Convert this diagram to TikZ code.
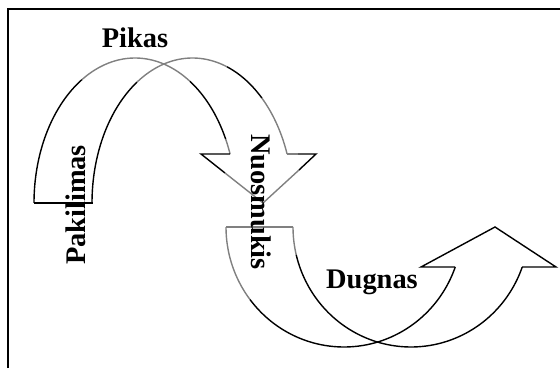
\documentclass[tikz,border=0pt]{standalone}
\usepackage{fontspec}
\setmainfont{Liberation Serif}
\begin{document}
\begin{tikzpicture}[x=0.5pt,y=-0.5pt,
  blk/.style={draw=black,line width=0.7pt},
  gry/.style={draw=black!50,line width=0.7pt},
  lbl/.style={font=\fontsize{14.2}{16}\selectfont\bfseries, inner sep=0pt}]
\useasboundingbox (0,0) rectangle (560,368);
% frame (cut off at right and bottom)
\draw[line width=1.1pt] (8,368) -- (8,9) -- (560,9);

% ---------- upper curved arrow ----------
% ellipse A: centre (135,203), rx 101, ry 145
\draw[blk] plot[domain=180:121.7,samples=40,variable=\t] ({135+101*cos(\t)},{203-145*sin(\t)});
\draw[gry] plot[domain=121.7:57,samples=40,variable=\t] ({135+101*cos(\t)},{203-145*sin(\t)});
\draw[blk] plot[domain=57:26,samples=30,variable=\t] ({135+101*cos(\t)},{203-145*sin(\t)});
\draw[gry] plot[domain=26:19.76,samples=10,variable=\t] ({135+101*cos(\t)},{203-145*sin(\t)});
% ellipse B: centre (192.5,203), rx 100.5, ry 145
\draw[blk] plot[domain=180:123.5,samples=40,variable=\t] ({192.5+100.5*cos(\t)},{203-145*sin(\t)});
\draw[gry] plot[domain=123.5:69.9,samples=40,variable=\t] ({192.5+100.5*cos(\t)},{203-145*sin(\t)});
\draw[blk] plot[domain=69.9:46.3,samples=30,variable=\t] ({192.5+100.5*cos(\t)},{203-145*sin(\t)});
\draw[gry] plot[domain=46.3:19.76,samples=30,variable=\t] ({192.5+100.5*cos(\t)},{203-145*sin(\t)});
% leg end
\draw[blk] (34,203) -- (92.5,203);
% arrow head
\coordinate (ha1) at (230,154);
\coordinate (ha2) at (201,154);
\coordinate (ha3) at (225,173);
\coordinate (tip1) at (263,203);
\coordinate (ha4) at (299,170);
\coordinate (ha5) at (316,154);
\coordinate (ha6) at (298,154);
\coordinate (ha7) at (287,154);
\draw[blk] (ha1) -- (ha2) -- (ha3);
\draw[gry] (ha3) -- (tip1) -- (ha4);
\draw[blk] (ha4) -- (ha5) -- (ha6);
\draw[gry] (ha6) -- (ha7);

% ---------- lower curved arrow ----------
% ellipse A: centre (344,227), rx 118, ry 120
\draw[gry] plot[domain=180:142.8,samples=30,variable=\t] ({344+118*cos(\t)},{227+120*sin(\t)});
\draw[blk] plot[domain=142.8:19.47,samples=80,variable=\t] ({344+118*cos(\t)},{227+120*sin(\t)});
% ellipse B: centre (411,227), rx 118, ry 120
\draw[gry] plot[domain=180:166.5,samples=15,variable=\t] ({411+118*cos(\t)},{227+120*sin(\t)});
\draw[blk] plot[domain=166.5:19.47,samples=80,variable=\t] ({411+118*cos(\t)},{227+120*sin(\t)});
% leg end
\draw[gry] (226,227) -- (293,227);
% arrow head
\coordinate (hb1) at (455,267);
\coordinate (hb2) at (421,267);
\coordinate (tip2) at (495,227);
\coordinate (hb3) at (556,267);
\coordinate (hb4) at (522,267);
\draw[blk,line join=miter] (hb1) -- (hb2) -- (tip2) -- (hb3) -- (hb4);

% ---------- labels ----------
\node[lbl,anchor=base] (pik) at (135,48) {Pikas};
\node[lbl,rotate=90] (pak) at (76,205) {Pakilimas};
\node[lbl,rotate=-90] (nuo) at (261,202) {Nuosmukis};
\node[lbl,anchor=base] (dug) at (372,288) {Dugnas};
\end{tikzpicture}
\end{document}
